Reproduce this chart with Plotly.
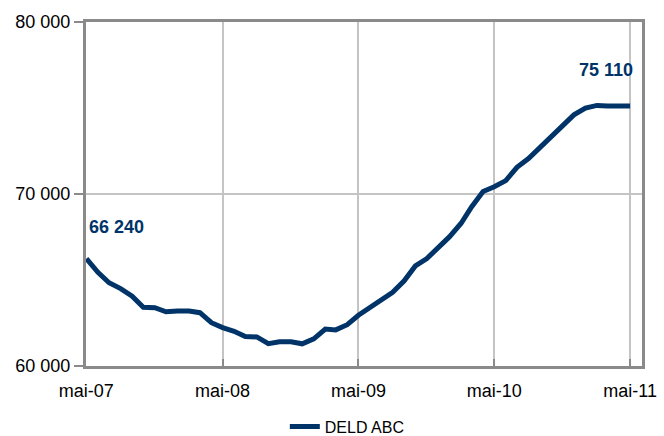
import plotly.graph_objects as go
import pandas as pd

# Monthly values, May 2007 -> May 2011
months = pd.date_range("2007-05-01", "2011-05-01", freq="MS")
deld_abc = [
    66240, 65450, 64840, 64500, 64060, 63420, 63390, 63150, 63200, 63200,
    63100, 62520, 62230, 62020, 61720, 61690, 61300, 61410, 61410, 61290,
    61580, 62150, 62100, 62400, 62950, 63400, 63900, 64280, 64950, 65820,
    66250, 66850, 67520, 68300, 69250, 70150, 70420, 70780, 71550, 72060,
    72700, 73350, 73900, 74600, 74990, 75150, 75110, 75110, 75110,
]
series_name = "DELD ABC"
first_label = "66 240"
last_label = "75 110"

tick_dates = ["2007-05-01", "2008-05-01", "2009-05-01", "2010-05-01", "2011-05-01"]
tick_text = ["mai-07", "mai-08", "mai-09", "mai-10", "mai-11"]
y_ticks = [60000, 70000, 80000]

navy = "#003468"
dark_grey = "#8a8a8a"
light_grey = "#c4c4c4"
font_family = "Liberation Sans, Arial, sans-serif"

fig = go.Figure()
fig.add_trace(go.Scatter(
    x=months, y=deld_abc, mode="lines", name=series_name,
    line=dict(color=navy, width=5),
))

fig.add_annotation(x=months[0], y=68080, text=f"<b>{first_label}</b>",
                   showarrow=False, xanchor="left", yanchor="middle", xshift=1,
                   font=dict(family=font_family, size=18, color=navy))
fig.add_annotation(x=months[-1], y=77210, text=f"<b>{last_label}</b>",
                   showarrow=False, xanchor="right", yanchor="middle", xshift=5,
                   font=dict(family=font_family, size=18, color=navy))

# figure is taller than the 436px window so the legend box fits without
# plotly pushing the bottom margin; the visible page is clipped at 436px
fig.update_layout(
    width=664, height=480,
    margin=dict(l=86, r=22, t=22, b=114),
    paper_bgcolor="white", plot_bgcolor="white",
    separators=", ",
    font=dict(family=font_family, size=18, color="#000000"),
    showlegend=True,
    legend=dict(orientation="h", x=0.47, xanchor="center", y=-0.176, yanchor="middle",
                font=dict(family=font_family, size=16, color="#000000")),
    xaxis=dict(
        range=["2007-04-30", "2011-06-02"],
        tickvals=tick_dates, ticktext=tick_text,
        showgrid=True, gridcolor=light_grey, gridwidth=2,
        showline=True, linecolor=dark_grey, linewidth=3, mirror=True,
        ticks="inside", ticklen=7, tickwidth=2, tickcolor=dark_grey,
        ticklabelstandoff=6, automargin=False,
        tickfont=dict(family=font_family, size=18, color="#000000"),
        zeroline=False,
    ),
    yaxis=dict(
        range=[60000, 80000],
        tickvals=y_ticks, tickformat=",d",
        showgrid=True, gridcolor=light_grey, gridwidth=2,
        showline=True, linecolor=dark_grey, linewidth=3, mirror=True,
        ticks="outside", ticklen=9, tickwidth=2, tickcolor=dark_grey,
        automargin=False,
        tickfont=dict(family=font_family, size=18, color="#000000"),
        zeroline=False,
    ),
)

fig.write_html(
    "out.html",
    config={"displayModeBar": False},
    post_script="document.body.style.margin='0';document.body.style.overflow='hidden';",
)
